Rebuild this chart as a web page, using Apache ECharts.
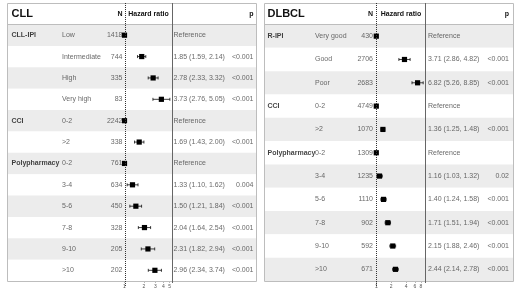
<!DOCTYPE html>
<html>
<head>
<meta charset="utf-8">
<script src="https://cdn.jsdelivr.net/npm/echarts@6/dist/echarts.min.js"></script>
<style>
html, body { margin: 0; padding: 0; background: #fff; }
#main { width: 520px; height: 292px; }
</style>
</head>
<body>
<div id="main"></div>
<script>
var chartDom = document.getElementById('main');
var myChart = echarts.init(chartDom);

// CLL values
const cllVars = ['CLL-IPI', '', '', '', 'CCI', '', 'Polypharmacy', '', '', '', '', ''];
const cllLevels = ['Low', 'Intermediate', 'High', 'Very high', '0-2', '>2', '0-2', '3-4', '5-6', '7-8', '9-10', '>10'];
const cllN = [1418, 744, 335, 83, 2242, 338, 761, 634, 450, 328, 205, 202];
const cllHR = [1, 1.85, 2.78, 3.73, 1, 1.69, 1, 1.33, 1.50, 2.04, 2.31, 2.96];
const cllLow = [null, 1.59, 2.33, 2.76, null, 1.43, null, 1.10, 1.21, 1.64, 1.82, 2.34];
const cllHigh = [null, 2.14, 3.32, 5.05, null, 2.00, null, 1.62, 1.84, 2.54, 2.94, 3.74];
const cllP = ['', '<0.001', '<0.001', '<0.001', '', '<0.001', '', '0.004', '<0.001', '<0.001', '<0.001', '<0.001'];
const cllTicks = [1, 2, 3, 4, 5];

// DLBCL values
const dlbclVars = ['R-IPI', '', '', 'CCI', '', 'Polypharmacy', '', '', '', '', ''];
const dlbclLevels = ['Very good', 'Good', 'Poor', '0-2', '>2', '0-2', '3-4', '5-6', '7-8', '9-10', '>10'];
const dlbclN = [430, 2706, 2683, 4749, 1070, 1309, 1235, 1110, 902, 592, 671];
const dlbclHR = [1, 3.71, 6.82, 1, 1.36, 1, 1.16, 1.40, 1.71, 2.15, 2.44];
const dlbclLow = [null, 2.86, 5.26, null, 1.25, null, 1.03, 1.24, 1.51, 1.88, 2.14];
const dlbclHigh = [null, 4.82, 8.85, null, 1.48, null, 1.32, 1.58, 1.94, 2.46, 2.78];
const dlbclP = ['', '<0.001', '<0.001', '', '<0.001', '', '0.02', '<0.001', '<0.001', '<0.001', '<0.001'];
const dlbclTicks = [1, 2, 4, 6, 8];

const FONT = '"Liberation Sans", Arial, sans-serif';
const TOP = 3, HEAD = 24.5, BOT = 281;

// layout of the two panels
const panels = [
  { title: 'CLL', vars: cllVars, levels: cllLevels, n: cllN, hr: cllHR, lo: cllLow, hi: cllHigh, p: cllP, ticks: cllTicks,
    left: 7, right: 256, varX: 4.5, levelX: 55, nX: 115.5, fL: 121, fR: 172, lnMin: -0.125, lnMax: 1.696, estX: 166.5, pX: 246.5 },
  { title: 'DLBCL', vars: dlbclVars, levels: dlbclLevels, n: dlbclN, hr: dlbclHR, lo: dlbclLow, hi: dlbclHigh, p: dlbclP, ticks: dlbclTicks,
    left: 264, right: 513, varX: 3.5, levelX: 51, nX: 109, fL: 373, fR: 425, lnMin: -0.153, lnMax: 2.265, estX: 164, pX: 245 }
];

let grids = [], xAxes = [], yAxes = [], series = [], graphics = [];

function textSeries(gi, x, texts, alignRight, bold, color) {
  return {
    type: 'scatter', xAxisIndex: gi, yAxisIndex: gi, symbolSize: 0, silent: true,
    data: texts.map(function (t, i) { return [x, i, String(t)]; }),
    label: {
      show: true, position: alignRight ? 'left' : 'right', distance: 0,
      formatter: function (p) { return p.value[2]; },
      fontSize: 7, fontFamily: FONT, fontWeight: bold ? 'bold' : 'normal', color: color
    }
  };
}

panels.forEach(function (pn) {
  const W = pn.right - pn.left;
  const rows = pn.levels.map(function (_, i) { return i; });

  // table grid (row stripes + text)
  const tg = grids.length;
  grids.push({ left: pn.left, top: HEAD, width: W, height: BOT - HEAD });
  xAxes.push({ gridIndex: tg, type: 'value', min: 0, max: W, show: false });
  yAxes.push({
    gridIndex: tg, type: 'category', data: rows, inverse: true,
    axisLine: { show: false }, axisTick: { show: false }, axisLabel: { show: false },
    splitArea: { show: true, areaStyle: { color: ['#ececec', '#ffffff'] } }
  });
  series.push(textSeries(tg, pn.varX, pn.vars, false, true, '#111'));
  series.push(textSeries(tg, pn.levelX, pn.levels, false, false, '#444'));
  series.push(textSeries(tg, pn.nX, pn.n, true, false, '#444'));
  series.push(textSeries(tg, pn.estX, pn.hr.map(function (h, i) {
    return pn.lo[i] == null ? 'Reference' : h.toFixed(2) + ' (' + pn.lo[i].toFixed(2) + ', ' + pn.hi[i].toFixed(2) + ')';
  }), false, false, '#444'));
  series.push(textSeries(tg, pn.pX, pn.p, true, false, '#444'));

  // forest grid
  const fg = grids.length;
  pn.fg = fg;
  grids.push({ left: pn.fL, top: HEAD, width: pn.fR - pn.fL, height: BOT - HEAD });
  const tickVals = pn.ticks.map(function (t) { return Math.log(t); });
  xAxes.push({
    gridIndex: fg, type: 'value', min: pn.lnMin, max: pn.lnMax,
    splitLine: { show: false },
    axisLine: { show: false },
    axisTick: { show: true, customValues: tickVals, length: 2, lineStyle: { color: '#888', width: 0.6 } },
    axisLabel: {
      show: true, customValues: tickVals, fontSize: 5, margin: 3, color: '#555', fontFamily: FONT,
      formatter: function (v) { return String(Math.round(Math.exp(v))); }
    }
  });
  yAxes.push({ gridIndex: fg, type: 'category', data: rows, inverse: true, show: false });
  series.push({
    type: 'custom', xAxisIndex: fg, yAxisIndex: fg, silent: true,
    data: pn.hr.map(function (h, i) { return [i, h, pn.lo[i] || 0, pn.hi[i] || 0]; }),
    encode: { y: 0 },
    renderItem: function (params, api) {
      const row = api.value(0), hr = api.value(1), lo = api.value(2), hi = api.value(3);
      const c = api.coord([Math.log(hr), row]);
      const kids = [];
      const st = { stroke: '#111', lineWidth: 0.8 };
      if (lo > 0) {
        const a = api.coord([Math.log(lo), row]), b = api.coord([Math.log(hi), row]);
        kids.push({ type: 'line', shape: { x1: a[0], y1: c[1], x2: b[0], y2: c[1] }, style: st });
        kids.push({ type: 'line', shape: { x1: a[0], y1: c[1] - 1.5, x2: a[0], y2: c[1] + 1.5 }, style: st });
        kids.push({ type: 'line', shape: { x1: b[0], y1: c[1] - 1.5, x2: b[0], y2: c[1] + 1.5 }, style: st });
      }
      kids.push({ type: 'rect', shape: { x: c[0] - 2.6, y: c[1] - 2.6, width: 5.2, height: 5.2 }, style: { fill: '#000' } });
      return { type: 'group', children: kids };
    }
  });

  // frame and header
  graphics.push({ type: 'rect', shape: { x: pn.left + 0.5, y: TOP + 0.5, width: W, height: BOT - TOP }, style: { fill: 'none', stroke: '#bdbdbd', lineWidth: 1 }, z: 10 });
  graphics.push({ type: 'line', shape: { x1: pn.left, y1: HEAD, x2: pn.right, y2: HEAD }, style: { stroke: '#bdbdbd', lineWidth: 1 }, z: 10 });
  graphics.push({ type: 'line', shape: { x1: pn.fR + 0.5, y1: TOP, x2: pn.fR + 0.5, y2: BOT + 2 }, style: { stroke: '#666', lineWidth: 1 }, z: 10 });
  graphics.push({ type: 'text', x: pn.left + pn.varX, y: 14, style: { text: pn.title, font: 'bold 11px ' + FONT, fill: '#111', verticalAlign: 'middle' }, z: 10 });
  graphics.push({ type: 'text', x: pn.left + pn.nX, y: 14.5, style: { text: 'N', font: 'bold 7px ' + FONT, fill: '#111', align: 'right', verticalAlign: 'middle' }, z: 10 });
  graphics.push({ type: 'text', x: (pn.fL + pn.fR) / 2 + 2, y: 14.5, style: { text: 'Hazard ratio', font: 'bold 7px ' + FONT, fill: '#111', align: 'center', verticalAlign: 'middle' }, z: 10 });
  graphics.push({ type: 'text', x: pn.left + pn.pX, y: 14.5, style: { text: 'p', font: 'bold 7px ' + FONT, fill: '#111', align: 'right', verticalAlign: 'middle' }, z: 10 });
});

var option = {
  animation: false,
  grid: grids,
  xAxis: xAxes,
  yAxis: yAxes,
  series: series,
  graphic: graphics
};
myChart.setOption(option);

// dotted reference line at HR = 1, placed through the forest axis
panels.forEach(function (pn) {
  const x = Math.round(myChart.convertToPixel({ gridIndex: pn.fg }, [0, 0])[0]) + 0.5;
  graphics.push({ type: 'line', shape: { x1: x, y1: TOP, x2: x, y2: BOT + 6 }, style: { stroke: '#333', lineWidth: 1, lineDash: [1, 1] }, z: 11 });
});
myChart.setOption({ graphic: graphics });
</script>
</body>
</html>
